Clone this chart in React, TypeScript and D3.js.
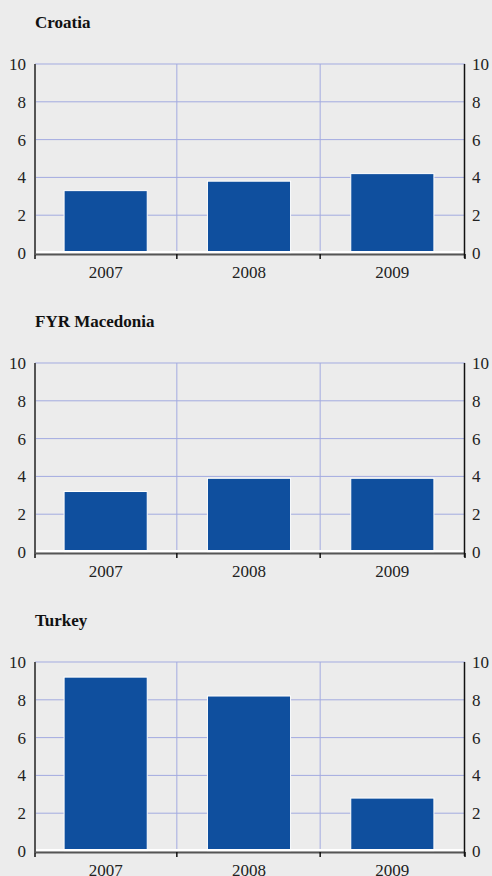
import React from "react";
import * as d3 from "d3";

const years = ["2007", "2008", "2009"];
const countries = ["Croatia", "FYR Macedonia", "Turkey"];
const croatia = [3.3, 3.8, 4.2];
const macedonia = [3.2, 3.9, 3.9];
const turkey = [9.2, 8.2, 2.8];
const seriesValues = [croatia, macedonia, turkey];
const yTicks = [0, 2, 4, 6, 8, 10];

const W = 492;
const H = 876;
const FONT = "Liberation Serif";

function T(props: any) {
  const { children, ...rest } = props;
  return (
    <text {...rest} className="serif" fontFamily={FONT}>
      {children}
    </text>
  );
}

function Panel({ title, values, top }: { title: string; values: number[]; top: number }) {
  const plotTop = top + 64;
  const plotBottom = top + 253;
  const left = 35;
  const right = 465;
  const x = d3.scaleBand<string>().domain(years).range([left, right]).padding(0);
  const y = d3.scaleLinear().domain([0, 10]).range([plotBottom, plotTop]);
  const bw = x.bandwidth() * 0.58;
  const boundaries = [left, ...years.slice(1).map((yr) => x(yr)! - 1.5), right];
  return (
    <g>
      <T x={35} y={top + 28} fontWeight="bold" fontSize={17} fill="#111">
        {title}
      </T>
      {yTicks.slice(1).map((t) => (
        <line key={"h" + t} x1={left} x2={right} y1={y(t)} y2={y(t)} stroke="#a3abe0" strokeWidth={1} />
      ))}
      {years.slice(1).map((yr) => (
        <line key={"v" + yr} x1={x(yr)! - 1.5} x2={x(yr)! - 1.5} y1={plotTop} y2={plotBottom} stroke="#a3abe0" strokeWidth={1} />
      ))}
      {values.map((v, i) => {
        const cx = x(years[i])! + x.bandwidth() / 2 - 1;
        return (
          <rect
            key={i}
            x={cx - bw / 2}
            y={y(v)}
            width={bw}
            height={plotBottom - y(v)}
            fill="#0f4f9e"
            stroke="#ffffff"
            strokeWidth={1}
          />
        );
      })}
      <line x1={left} x2={right} y1={plotBottom - 1} y2={plotBottom - 1} stroke="#ffffff" strokeWidth={2} />
      <line x1={left} x2={right} y1={plotBottom + 1.5} y2={plotBottom + 1.5} stroke="#555" strokeWidth={2} />
      {boundaries.map((b, i) => (
        <line key={"t" + i} x1={b} x2={b} y1={plotBottom + 1} y2={plotBottom + 6} stroke="#111" strokeWidth={1.5} />
      ))}
      <line x1={left} x2={left} y1={plotTop} y2={plotBottom + 2} stroke="#555" strokeWidth={2} />
      <line x1={right - 0.5} x2={right - 0.5} y1={plotTop} y2={plotBottom + 5} stroke="#111" strokeWidth={1.5} />
      {yTicks.map((t) => (
        <T key={"l" + t} x={26} y={y(t) + 6} textAnchor="end" fontSize={17} fill="#222">
          {String(t)}
        </T>
      ))}
      {yTicks.map((t) => (
        <T key={"r" + t} x={472} y={y(t) + 6} textAnchor="start" fontSize={17} fill="#222">
          {String(t)}
        </T>
      ))}
      {years.map((yr) => (
        <T key={"x" + yr} x={x(yr)! + x.bandwidth() / 2 - 1} y={plotBottom + 25} textAnchor="middle" fontSize={17} fill="#222">
          {yr}
        </T>
      ))}
    </g>
  );
}

export default function App() {
  return (
    <svg width={W} height={H} style={{ position: "absolute", left: 0, top: 0, display: "block" }}>
      <style>{`svg text, text.serif { font-family: "Liberation Serif", "Times New Roman", serif !important; }`}</style>
      <rect x={0} y={0} width={W} height={H} fill="#ececec" />
      {countries.map((c, i) => (
        <Panel key={c} title={c} values={seriesValues[i]} top={i * 299} />
      ))}
    </svg>
  );
}
